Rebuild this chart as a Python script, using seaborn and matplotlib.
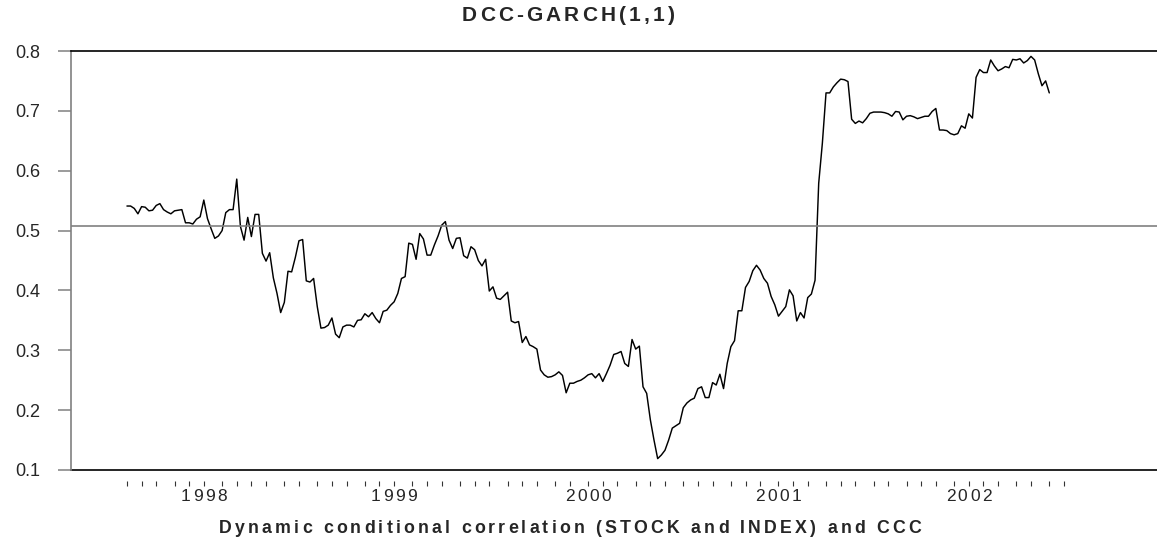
import numpy as np
import pandas as pd
import matplotlib
matplotlib.use('Agg')
import matplotlib.pyplot as plt
import matplotlib.transforms as mtransforms
from matplotlib.font_manager import FontProperties, findfont, get_font
import seaborn as sns

# weekly DCC correlation
dcc = [
    0.541, 0.541, 0.537, 0.528, 0.540, 0.539, 0.533, 0.534, 0.542, 0.545,
    0.535, 0.531, 0.528, 0.533, 0.534, 0.535, 0.513, 0.513, 0.511, 0.519,
    0.523, 0.551, 0.520, 0.503, 0.487, 0.491, 0.500, 0.530, 0.535, 0.535,
    0.586, 0.507, 0.484, 0.522, 0.490, 0.527, 0.527, 0.462, 0.449, 0.463,
    0.421, 0.395, 0.363, 0.380, 0.432, 0.431, 0.455, 0.483, 0.485, 0.416,
    0.414, 0.420, 0.373, 0.337, 0.338, 0.342, 0.354, 0.327, 0.321, 0.339,
    0.342,
    0.342, 0.339, 0.350, 0.351, 0.361, 0.356, 0.363, 0.353, 0.346, 0.365,
    0.367, 0.375, 0.381, 0.395, 0.420, 0.423, 0.479, 0.477, 0.452, 0.495,
    0.486, 0.459, 0.459, 0.476, 0.491, 0.509, 0.515, 0.484, 0.470, 0.487,
    0.488, 0.458, 0.454, 0.473, 0.468, 0.450, 0.441, 0.452, 0.399, 0.406,
    0.387, 0.385, 0.391, 0.397, 0.349, 0.346, 0.348, 0.313, 0.323, 0.309,
    0.306, 0.302, 0.267, 0.259, 0.255, 0.256, 0.259, 0.264, 0.258, 0.229,
    0.245, 0.245, 0.248,
    0.250, 0.254, 0.259, 0.261, 0.254, 0.261, 0.248, 0.261, 0.275, 0.293,
    0.295, 0.298, 0.278, 0.273, 0.318, 0.302, 0.307, 0.239, 0.228, 0.184,
    0.150, 0.119, 0.125, 0.133, 0.150, 0.170, 0.174, 0.178, 0.204, 0.212,
    0.217, 0.220, 0.236, 0.239, 0.221, 0.221, 0.246, 0.242, 0.260, 0.236,
    0.278, 0.306, 0.316, 0.366, 0.366, 0.405, 0.415, 0.433, 0.442, 0.434,
    0.420, 0.412, 0.390, 0.376, 0.357, 0.365, 0.373, 0.401, 0.391, 0.349,
    0.363, 0.354, 0.388,
    0.394, 0.417, 0.579, 0.646, 0.730, 0.730, 0.740, 0.747, 0.753, 0.752,
    0.749, 0.686, 0.679, 0.683, 0.680, 0.687, 0.696, 0.698, 0.698, 0.698,
    0.697, 0.695, 0.691, 0.699, 0.698, 0.685, 0.691, 0.692, 0.690, 0.687,
    0.689, 0.691, 0.691, 0.699, 0.704, 0.668, 0.668, 0.667, 0.662, 0.660,
    0.662, 0.675, 0.671, 0.695, 0.688, 0.756, 0.769, 0.764, 0.764, 0.785,
    0.775, 0.767, 0.770, 0.774, 0.772, 0.786, 0.785, 0.787, 0.780, 0.784,
    0.791, 0.785, 0.762, 0.742, 0.750, 0.730,
]
ccc = 0.507
start = '1997-08-08'
years = [1998, 1999, 2000, 2001, 2002]

title = 'DCC-GARCH(1,1)'
xlabel = 'Dynamic conditional correlation (STOCK and INDEX) and CCC'

dates = pd.date_range(start, periods=len(dcc), freq='7D')
df = pd.DataFrame({'date': dates, 'dcc': dcc})

# monthly ticks sit on the first weekly observation of each month
weeks = pd.Series(pd.date_range(start, '2002-07-31', freq='7D'))
month_ticks = weeks.groupby(weeks.dt.to_period('M')).first()
year_ticks = [month_ticks[m] for m in month_ticks.index if m.month == 1]

sns.set_style('white')
plt.rcParams['font.family'] = ['Liberation Sans', 'DejaVu Sans']

fig = plt.figure(figsize=(11.57, 5.40), dpi=100)
ax = fig.add_axes([71 / 1157, 1 - 470 / 540, 1 - 71 / 1157, (470 - 51) / 540])

sns.lineplot(data=df, x='date', y='dcc', color='black', lw=1.05, ax=ax)
ax.axhline(ccc, color='#808080', lw=1.2)
ax.axhline(0.1, color='black', lw=1.2, clip_on=False)

ax.set_ylim(0.1, 0.8)
ax.set_xlim(dates[0] - pd.Timedelta(days=107), dates[0] + pd.Timedelta(days=1970))
ax.set_xlabel('')
ax.set_ylabel('')

ax.spines['right'].set_visible(False)
ax.spines['top'].set_color('black')
ax.spines['top'].set_linewidth(1.2)
ax.spines['left'].set_color('#808080')
ax.spines['left'].set_linewidth(1.2)
ax.spines['bottom'].set_position(('outward', 8))
ax.spines['bottom'].set_visible(False)

ax.set_yticks(np.arange(0.1, 0.81, 0.1))
ax.set_yticklabels([f'{v:.1f}' for v in np.arange(0.1, 0.81, 0.1)])
ax.tick_params(axis='y', direction='out', length=9.4, width=1.1, color='#808080',
               labelsize=13, pad=13, left=True)
for t in (ax.yaxis.get_major_ticks()[0], ax.yaxis.get_major_ticks()[-1]):
    t.tick1line.set_color('black')

ax.set_xticks(month_ticks.values)
ax.set_xticklabels([])
ax.tick_params(axis='x', direction='out', length=3.6, width=0.8, color='#333333', bottom=True)


def spaced_text(x, y, s, transform, size, weight='normal', gap=2.0):
    # matplotlib has no letter spacing, so lay the characters out one by one
    fp = FontProperties(family='Liberation Sans', size=size, weight=weight)
    font = get_font(findfont(fp))
    font.set_size(size, 72)
    adv = [font.load_char(ord(c)).linearHoriAdvance / 65536 for c in s]
    total = sum(adv) + gap * (len(s) - 1)
    off = -total / 2
    for c, a in zip(s, adv):
        tr = mtransforms.offset_copy(transform, fig=fig, x=off, y=0, units='points')
        fig.text(x, y, c, transform=tr, fontproperties=fp, ha='left', va='baseline')
        off += a + gap


spaced_text(568 / 1157, 1 - 21 / 540, title, fig.transFigure, 15, 'bold', 2.3)
spaced_text(570 / 1157, 1 - 533 / 540, xlabel, fig.transFigure, 12.8, 'bold', 2.3)
year_trans = mtransforms.blended_transform_factory(ax.transData, fig.transFigure)
for yr, d in zip(years, year_ticks):
    spaced_text(matplotlib.dates.date2num(d), 1 - 501 / 540, str(yr), year_trans, 12.5, 'normal', 1.8)

fig.savefig('out.png', dpi=100)
